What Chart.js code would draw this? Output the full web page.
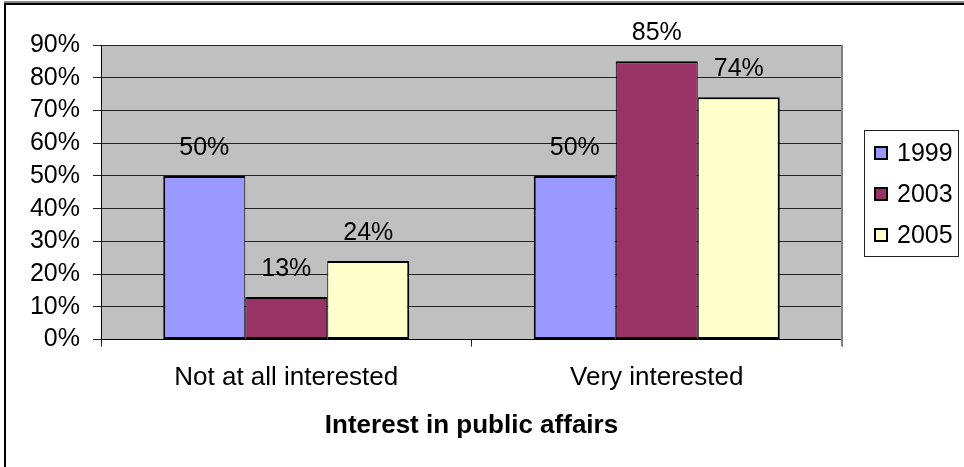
<!DOCTYPE html>
<html lang="en">
<head>
    <meta charset="UTF-8">
    <title>Interest in public affairs</title>
    <script src="https://cdn.jsdelivr.net/npm/chart.js"></script>
    <style>
        html, body { margin: 0; padding: 0; background: #fff; }
        #wrap { position: relative; width: 964px; height: 467px; }
    </style>
</head>
<body>
    <div id="wrap"><canvas id="interestChart"></canvas></div>

    <script>
        // chart data
        const categories = ['Not at all interested', 'Very interested'];
        const years = ['1999', '2003', '2005'];
        const values1999 = [50, 50];
        const values2003 = [13, 85];
        const values2005 = [24, 74];
        const yTicks = [0, 10, 20, 30, 40, 50, 60, 70, 80, 90];
        const barColors = ['#9999FF', '#993366', '#FFFFCC'];

        const FONT = 'Arial, "Liberation Sans", sans-serif';

        // gray plot area, outer frame, right edge
        const plotBg = {
            id: 'plotBg',
            beforeDraw(chart) {
                const { ctx, chartArea: a } = chart;
                ctx.save();
                ctx.fillStyle = '#C0C0C0';
                ctx.fillRect(a.left, a.top, a.right - a.left, a.bottom - a.top);
                ctx.fillStyle = '#888';
                ctx.fillRect(4, 1, 960, 2);
                ctx.fillStyle = '#000';
                ctx.fillRect(4, 3, 960, 2);
                ctx.fillRect(4, 3, 2, 464);
                ctx.restore();
            },
            beforeDatasetsDraw(chart) {
                const { ctx, chartArea: a } = chart;
                ctx.save();
                ctx.strokeStyle = '#808080';
                ctx.lineWidth = 2;
                ctx.beginPath();
                ctx.moveTo(a.right, a.top);
                ctx.lineTo(a.right, a.bottom + 7);
                ctx.stroke();
                ctx.restore();
            }
        };

        // value labels above bars
        const valueLabels = {
            id: 'valueLabels',
            afterDatasetsDraw(chart) {
                const { ctx } = chart;
                ctx.save();
                ctx.font = '25px ' + FONT;
                ctx.fillStyle = '#000';
                ctx.textAlign = 'center';
                ctx.textBaseline = 'middle';
                chart.data.datasets.forEach((ds, i) => {
                    chart.getDatasetMeta(i).data.forEach((bar, j) => {
                        ctx.fillText(ds.data[j] + '%', bar.x, bar.y - 28);
                    });
                });
                ctx.restore();
            }
        };

        // boxed legend on the right
        const boxLegend = {
            id: 'boxLegend',
            afterDraw(chart) {
                const { ctx } = chart;
                const x0 = 864, y0 = 130, w = 94, h = 126;
                ctx.save();
                ctx.strokeStyle = '#222';
                ctx.lineWidth = 1;
                ctx.strokeRect(x0 + 0.5, y0 + 0.5, w, h);
                ctx.font = '25px ' + FONT;
                ctx.textBaseline = 'middle';
                chart.data.datasets.forEach((ds, i) => {
                    const cy = 153 + i * 41;
                    ctx.fillStyle = '#000';
                    ctx.fillRect(874, cy - 7, 14, 14);
                    ctx.fillStyle = ds.backgroundColor;
                    ctx.fillRect(876, cy - 5, 10, 10);
                    ctx.fillStyle = '#000';
                    ctx.textAlign = 'left';
                    ctx.fillText(ds.label, 897, cy + 1);
                });
                ctx.restore();
            }
        };

        const seriesValues = [values1999, values2003, values2005];
        const edgeBorders = [
            { top: 2, bottom: 2, left: 2, right: 1 },
            { top: 2, bottom: 2, left: 1, right: 1 },
            { top: 2, bottom: 2, left: 1, right: 2 }
        ];

        const interestChart = new Chart(document.getElementById('interestChart'), {
            type: 'bar',
            data: {
                labels: categories,
                datasets: years.map((y, i) => ({
                    label: y,
                    data: seriesValues[i],
                    backgroundColor: barColors[i],
                    borderColor: '#000',
                    borderWidth: edgeBorders[i],
                    borderSkipped: false,
                    categoryPercentage: 0.664,
                    barPercentage: 1.0
                }))
            },
            options: {
                responsive: true,
                maintainAspectRatio: false,
                animation: false,
                layout: { padding: { top: 45, right: 122, bottom: 26, left: 0 } },
                plugins: {
                    legend: { display: false },
                    tooltip: { enabled: false }
                },
                scales: {
                    y: {
                        min: 0,
                        max: 90,
                        afterBuildTicks(scale) {
                            scale.ticks = yTicks.map(v => ({ value: v }));
                        },
                        afterFit(scale) { scale.width = 101; },
                        grid: { color: '#222', lineWidth: 1, tickLength: 8 },
                        border: { display: true, color: '#000', width: 1 },
                        ticks: {
                            autoSkip: false,
                            padding: 13,
                            color: '#000',
                            font: { family: FONT, size: 25 },
                            callback: v => v + '%'
                        }
                    },
                    x: {
                        grid: { drawOnChartArea: false, color: '#222', tickLength: 7 },
                        border: { display: true, color: '#000', width: 1 },
                        ticks: {
                            padding: 16,
                            maxRotation: 0,
                            color: '#000',
                            font: { family: FONT, size: 26 }
                        },
                        title: {
                            display: true,
                            text: 'Interest in public affairs',
                            color: '#000',
                            font: { family: FONT, size: 26, weight: 'bold' },
                            padding: { top: 0, bottom: 0 }
                        }
                    }
                }
            },
            plugins: [plotBg, valueLabels, boxLegend]
        });
    </script>
</body>
</html>
